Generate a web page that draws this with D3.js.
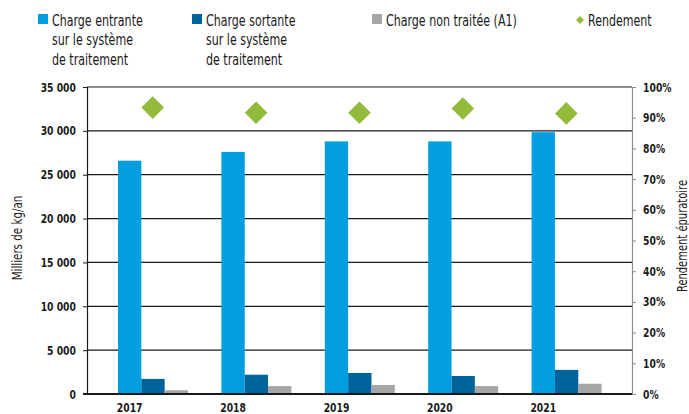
<!DOCTYPE html>
<html>
<head>
<meta charset="utf-8">
<script src="https://cdn.jsdelivr.net/npm/d3@7"></script>
<style>
  body { margin: 0; background: #fff; }
  svg text { font-family: "Liberation Sans Narrow", "DejaVu Sans Condensed", "Roboto", sans-serif; fill: #1a1a1a; }
</style>
</head>
<body>
<div id="chart"></div>
<script>
// values
const years = ["2017", "2018", "2019", "2020", "2021"];
const chargeEntrante = [26600, 27600, 28800, 28800, 29850];
const chargeSortante = [1720, 2200, 2400, 2050, 2750];
const chargeNonTraitee = [430, 900, 1030, 900, 1170];
const rendement = [93.3, 91.6, 91.6, 93.0, 91.4];

const leftTicks = [0, 5000, 10000, 15000, 20000, 25000, 30000, 35000];
const rightTicks = [0, 10, 20, 30, 40, 50, 60, 70, 80, 90, 100];

const seriesKeys = ["entrant", "sortant", "nonTraite"];
const seriesLabels = [
  ["Charge entrante", "sur le système", "de traitement"],
  ["Charge sortante", "sur le système", "de traitement"],
  ["Charge non traitée (A1)"]
];
const rendementLabel = "Rendement";
const colors = ["#009ee0", "#00639a", "#a6a6a6"];
const green = "#93bb3b";

const width = 689, height = 414;
const plotLeft = 87, plotRight = 632, plotTop = 87, plotBottom = 394;
const squeeze = 0.82; // the original font is a condensed one

const rows = years.map((yr, i) => ({
  year: yr,
  entrant: chargeEntrante[i],
  sortant: chargeSortante[i],
  nonTraite: chargeNonTraitee[i],
  rendement: rendement[i]
}));

const svg = d3.select("#chart").append("svg")
  .attr("width", width)
  .attr("height", height);

const x0 = d3.scaleBand().domain(years).range([101, 618]).padding(0);
const x1 = d3.scaleBand().domain(seriesKeys).range([17, 87]).padding(0);
const y = d3.scaleLinear().domain([0, 35000]).range([plotBottom, plotTop]);
const y2 = d3.scaleLinear().domain([0, 100]).range([plotBottom, plotTop]);

const fr = d3.formatLocale({ decimal: ",", thousands: " ", grouping: [3], currency: ["", ""] });
const fmt = fr.format(",d");

// gridlines
svg.append("g")
  .selectAll("line")
  .data(leftTicks.filter(d => d > 0))
  .join("line")
  .attr("x1", plotLeft).attr("x2", plotRight)
  .attr("y1", d => y(d)).attr("y2", d => y(d))
  .attr("stroke", "#1a1a1a")
  .attr("stroke-width", 1.2);

// bars
svg.append("g")
  .selectAll("g")
  .data(rows)
  .join("g")
  .attr("transform", d => "translate(" + x0(d.year) + ",0)")
  .selectAll("rect")
  .data(d => seriesKeys.map((k, i) => ({ key: k, value: d[k], color: colors[i] })))
  .join("rect")
  .attr("x", d => x1(d.key))
  .attr("width", x1.bandwidth())
  .attr("y", d => y(d.value))
  .attr("height", d => y(0) - y(d.value))
  .attr("fill", d => d.color);

// left axis
let gl = svg.append("g")
  .attr("transform", "translate(" + plotLeft + ",0)")
  .call(d3.axisLeft(y).tickValues(leftTicks).tickSize(4).tickPadding(9.5).tickFormat(fmt));
gl.select(".domain").attr("stroke", "#1a1a1a").attr("stroke-width", 1.2);
gl.selectAll(".tick line").attr("stroke", "#1a1a1a");
gl.selectAll(".tick text")
  .style("font-size", "12.5px").style("font-weight", "bold")
  .attr("transform", "scale(" + squeeze + ",1)");

// right axis
let gr = svg.append("g")
  .attr("transform", "translate(" + plotRight + ",0)")
  .call(d3.axisRight(y2).tickValues(rightTicks).tickSize(4).tickPadding(9.5).tickFormat(d => d + "%"));
gr.select(".domain").attr("stroke", "#8c8c8c").attr("stroke-width", 1.2);
gr.selectAll(".tick line").attr("stroke", "#8c8c8c");
gr.selectAll(".tick text")
  .style("font-size", "12.5px").style("font-weight", "bold")
  .attr("transform", "scale(" + squeeze + ",1)");

// bottom axis, labels under the first bar of each group
const labelShift = x1("entrant") + x1.bandwidth() / 2 - x0.bandwidth() / 2;
let gb = svg.append("g")
  .attr("transform", "translate(" + labelShift + "," + plotBottom + ")")
  .call(d3.axisBottom(x0).tickSize(0).tickPadding(9));
gb.select(".domain").remove();
gb.selectAll(".tick text")
  .style("font-size", "12.5px").style("font-weight", "bold")
  .attr("transform", "scale(" + squeeze + ",1)");

svg.append("line")
  .attr("x1", plotLeft - 4).attr("x2", plotRight)
  .attr("y1", plotBottom).attr("y2", plotBottom)
  .attr("stroke", "#1a1a1a")
  .attr("stroke-width", 2);

// rendement diamonds
svg.append("g")
  .selectAll("path")
  .data(rows)
  .join("path")
  .attr("d", d3.symbol(d3.symbolSquare, 256))
  .attr("transform", d => "translate(" + (x0(d.year) + x0.bandwidth() / 2) + "," + y2(d.rendement) + ") rotate(45)")
  .attr("fill", green);

// axis titles
svg.append("text")
  .attr("transform", "translate(22,238) rotate(-90) scale(" + squeeze + ",1)")
  .attr("text-anchor", "middle")
  .style("font-size", "14px")
  .text("Milliers de kg/an");

svg.append("text")
  .attr("transform", "translate(687,236) rotate(-90) scale(" + squeeze + ",1)")
  .attr("text-anchor", "middle")
  .style("font-size", "13.5px")
  .text("Rendement épuratoire");

// legend
const legendX = [38, 192, 372];
const legend = svg.append("g");
seriesLabels.forEach((lines, i) => {
  const g = legend.append("g").attr("transform", "translate(" + legendX[i] + ",0)");
  g.append("rect").attr("x", 0).attr("y", 14).attr("width", 10).attr("height", 10).attr("fill", colors[i]);
  g.append("text")
    .attr("transform", "translate(14,0) scale(" + squeeze + ",1)")
    .style("font-size", "15px")
    .selectAll("tspan")
    .data(lines)
    .join("tspan")
    .attr("x", 0)
    .attr("y", (d, j) => 26 + j * 19.5)
    .text(d => d);
});
const lg = legend.append("g").attr("transform", "translate(580,0)");
lg.append("path")
  .attr("d", d3.symbol(d3.symbolSquare, 32))
  .attr("transform", "translate(0,20) rotate(45)")
  .attr("fill", green);
lg.append("text")
  .attr("transform", "translate(8,26) scale(" + squeeze + ",1)")
  .style("font-size", "15px")
  .text(rendementLabel);
</script>
</body>
</html>
